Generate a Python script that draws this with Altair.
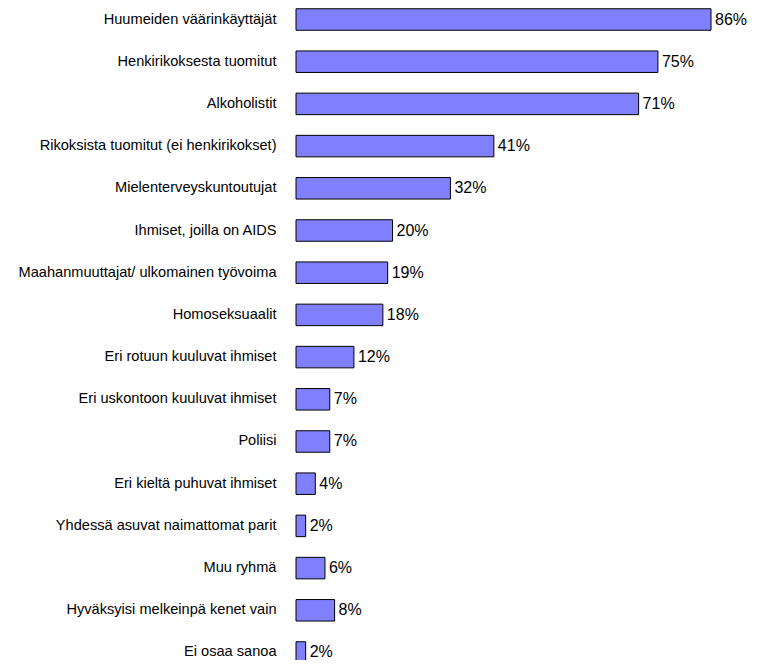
import altair as alt
import pandas as pd

categories = [
    "Huumeiden väärinkäyttäjät",
    "Henkirikoksesta tuomitut",
    "Alkoholistit",
    "Rikoksista tuomitut (ei henkirikokset)",
    "Mielenterveyskuntoutujat",
    "Ihmiset, joilla on AIDS",
    "Maahanmuuttajat/ ulkomainen työvoima",
    "Homoseksuaalit",
    "Eri rotuun kuuluvat ihmiset",
    "Eri uskontoon kuuluvat ihmiset",
    "Poliisi",
    "Eri kieltä puhuvat ihmiset",
    "Yhdessä asuvat naimattomat parit",
    "Muu ryhmä",
    "Hyväksyisi melkeinpä kenet vain",
    "Ei osaa sanoa",
]
values = [86, 75, 71, 41, 32, 20, 19, 18, 12, 7, 7, 4, 2, 6, 8, 2]

df = pd.DataFrame({"cat": categories, "val": values})
df["label"] = df["val"].astype(str) + "%"

FONT = "Liberation Sans"
PX_PER = 4.82
DOMAIN_MAX = 86

y = alt.Y(
    "cat:N",
    sort=categories,
    scale=alt.Scale(paddingInner=0.4905, paddingOuter=0.0178, range=[0, 656]),
    axis=alt.Axis(
        title=None, domain=False, ticks=False, labelPadding=20,
        labelFontSize=14.6, labelFont=FONT, labelColor="#000000", labelLimit=400,
    ),
)
x = alt.X("val:Q", scale=alt.Scale(domain=[0, DOMAIN_MAX]), axis=None)

bars = alt.Chart(df).mark_bar(
    color="#8080FF", stroke="#000000", strokeWidth=1
).encode(x=x, y=y)

text = alt.Chart(df).mark_text(
    align="left", baseline="middle", dx=4, fontSize=16, font=FONT, color="#000000"
).encode(x=x, y=y, text="label:N")

chart = (bars + text).properties(
    width=415,
    height=652,
    autosize=alt.AutoSizeParams(type="none"),
    padding={"left": 288, "top": 0, "right": 39, "bottom": 0},
).configure_view(stroke=None)

chart.save("out.html", embed_options={"renderer": "svg", "actions": False})
